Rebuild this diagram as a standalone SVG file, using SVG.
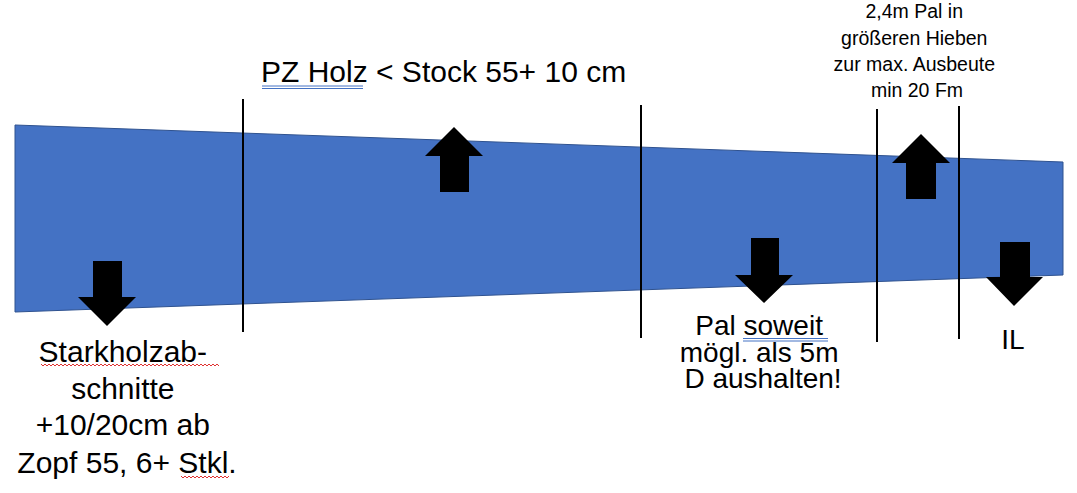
<svg xmlns="http://www.w3.org/2000/svg" width="1077" height="493" viewBox="0 0 1077 493">
<style>
.t{font-family:"Liberation Sans",Arial,sans-serif;fill:#000}
.ln{stroke:#000;stroke-width:2;fill:none}
.ar{fill:#000}
.bu{stroke:#4472C4;stroke-width:1;fill:none}
.ru{stroke:#e03030;stroke-width:1;fill:none}
</style>
<rect width="1077" height="493" fill="#fff"/>
<g id="log">
<polygon points="15,125 1063,162 1063,275 15,312" fill="#4472C4" stroke="#2F528F" stroke-width="1"/>
</g>
<g id="connectors">
<line class="ln" x1="243" y1="99" x2="243" y2="332"/>
<line class="ln" x1="641" y1="105" x2="641" y2="338"/>
<line class="ln" x1="877" y1="109" x2="877" y2="342"/>
<line class="ln" x1="959" y1="106" x2="959" y2="339"/>
<polygon class="ar" points="93,261 122,261 122,297 136,297 107,326 78,297 93,297"/>
<polygon class="ar" points="454,127 483,156 469,156 469,192 440,192 440,156 425,156"/>
<polygon class="ar" points="921,134 950,163 936,163 936,199 906,199 906,163 892,163"/>
<polygon class="ar" points="751,238 779,238 779,275 793,275 764,303 735,275 751,275"/>
<polygon class="ar" points="1000,242 1030,242 1030,277 1043,277 1014,306 986,277 1000,277"/>
</g>
<g id="label-pz">
<text class="t" x="261" y="82" font-size="30">PZ Holz &lt; Stock 55+ 10 cm</text>
<path class="bu" d="M262,86 H363 M262,88.5 H363"/>
</g>
<g id="label-pal24">
<text class="t" font-size="19.5" text-anchor="middle">
<tspan x="917" y="18">2,4m Pal in</tspan>
<tspan x="917" y="45">größeren Hieben</tspan>
<tspan x="917" y="71">zur max. Ausbeute</tspan>
<tspan x="917" y="97">min 20 Fm</tspan>
</text>
</g>
<g id="label-pal">
<text class="t" font-size="28" text-anchor="middle">
<tspan x="763" y="335">Pal soweit</tspan>
<tspan x="763" y="362">mögl. als 5m</tspan>
<tspan x="763" y="388">D aushalten!</tspan>
</text>
<path class="bu" d="M743,338.5 H828 M743,341 H828"/>
</g>
<g id="label-il">
<text class="t" font-size="28" text-anchor="middle" x="1013" y="349">IL</text>
</g>
<g id="label-stark">
<text class="t" font-size="30" text-anchor="middle">
<tspan x="127" y="362">Starkholzab-</tspan>
<tspan x="127" y="399">schnitte</tspan>
<tspan x="127" y="435">+10/20cm ab</tspan>
<tspan x="127" y="473">Zopf 55, 6+ Stkl.</tspan>
</text>
<path class="ru" d="M41,364 l2,2 l2,-2 l2,2 l2,-2 l2,2 l2,-2 l2,2 l2,-2 l2,2 l2,-2 l2,2 l2,-2 l2,2 l2,-2 l2,2 l2,-2 l2,2 l2,-2 l2,2 l2,-2 l2,2 l2,-2 l2,2 l2,-2 l2,2 l2,-2 l2,2 l2,-2 l2,2 l2,-2 l2,2 l2,-2 l2,2 l2,-2 l2,2 l2,-2 l2,2 l2,-2 l2,2 l2,-2 l2,2 l2,-2 l2,2 l2,-2 l2,2 l2,-2 l2,2 l2,-2 l2,2 l2,-2 l2,2 l2,-2 l2,2 l2,-2 l2,2 l2,-2 l2,2 l2,-2 l2,2 l2,-2 l2,2 l2,-2 l2,2 l2,-2 l2,2 l2,-2 l2,2 l2,-2 l2,2 l2,-2 l2,2 l2,-2 l2,2 l2,-2 l2,2 l2,-2 l2,2 l2,-2 l2,2 l2,-2 l2,2 l2,-2 l2,2 l2,-2 l2,2 l2,-2 l2,2 l2,-2 l2,2"/>
<path class="ru" d="M181,476 l2,2 l2,-2 l2,2 l2,-2 l2,2 l2,-2 l2,2 l2,-2 l2,2 l2,-2 l2,2 l2,-2 l2,2 l2,-2 l2,2 l2,-2 l2,2 l2,-2 l2,2 l2,-2 l2,2 l2,-2 l2,2 l2,-2"/>
</g>
</svg>
